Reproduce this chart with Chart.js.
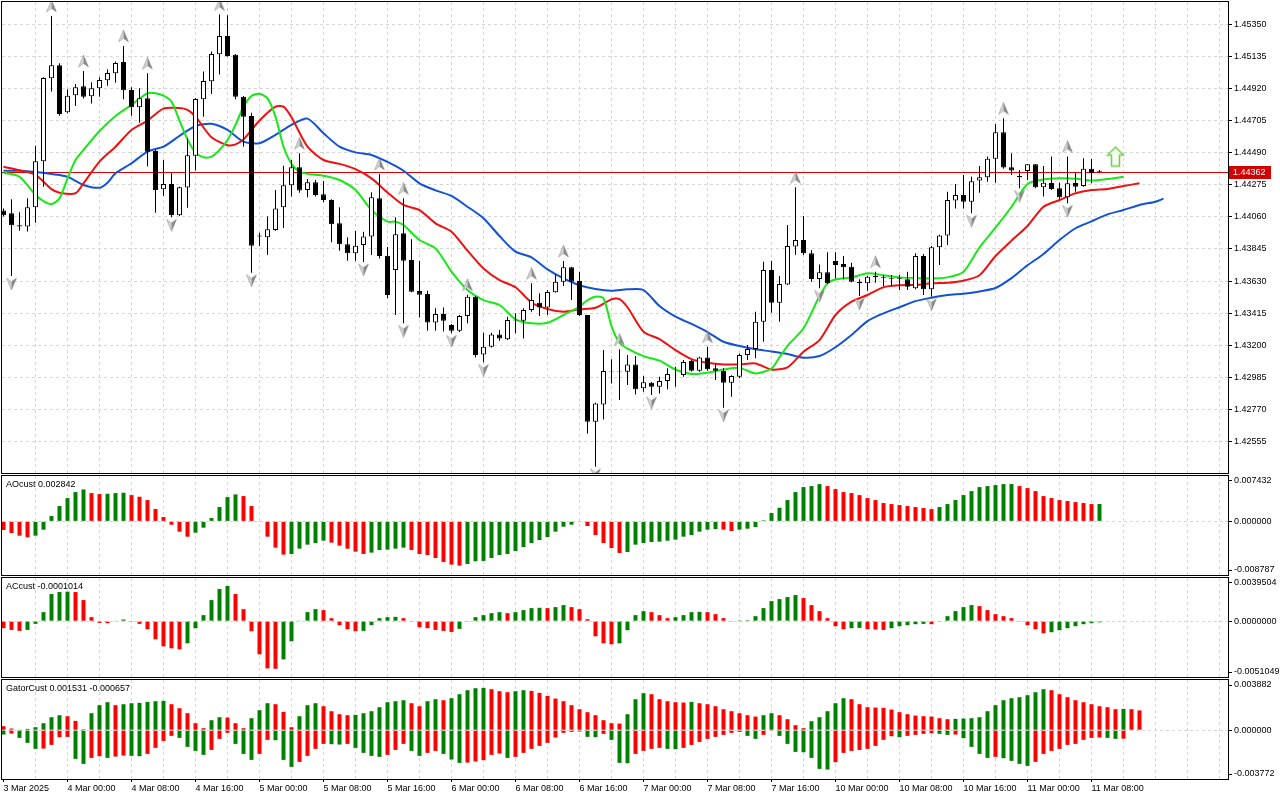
<!DOCTYPE html>
<html>
<head>
<meta charset="utf-8">
<title>GBPUSD H1 - Alligator / AO / AC / Gator</title>
<script src="https://cdn.jsdelivr.net/npm/chart.js@4.4.1/dist/chart.umd.min.js"></script>
<style>
  html, body { margin: 0; padding: 0; background: #fff; }
  body { width: 1280px; height: 800px; position: relative; overflow: hidden; font-family: "Liberation Sans", Arial, sans-serif; }
  canvas { position: absolute; left: 0; }
  .lbl { position: absolute; left: 6px; font-size: 9px; line-height: 11px; color: #000; white-space: nowrap; }
</style>
</head>
<body>
<canvas id="main" width="1280" height="475" style="top:0px"></canvas>
<canvas id="ao" width="1280" height="102" style="top:475px"></canvas>
<canvas id="ac" width="1280" height="102" style="top:577px"></canvas>
<canvas id="gator" width="1280" height="121" style="top:679px"></canvas>
<div class="lbl" id="aoLbl" style="top:479px"></div>
<div class="lbl" id="acLbl" style="top:581px"></div>
<div class="lbl" id="gatorLbl" style="top:683px"></div>

<script>
// ---- data (H1 bars, index 0 = 3 Mar 16:00) ----
const timeLabels = ['3 Mar 2025', '4 Mar 00:00', '4 Mar 08:00', '4 Mar 16:00', '5 Mar 00:00', '5 Mar 08:00',
  '5 Mar 16:00', '6 Mar 00:00', '6 Mar 08:00', '6 Mar 16:00', '7 Mar 00:00', '7 Mar 08:00', '7 Mar 16:00',
  '10 Mar 00:00', '10 Mar 08:00', '10 Mar 16:00', '11 Mar 00:00', '11 Mar 08:00'];

const priceTicks = [1.42555, 1.42770, 1.42985, 1.43200, 1.43415, 1.43630, 1.43845, 1.44060,
  1.44275, 1.44490, 1.44705, 1.44920, 1.45135, 1.45350];

const open = [1.44102,1.44084,1.44004,1.43995,1.44124,1.44432,1.44988,1.45075,1.44760,1.44874,
  1.44935,1.44868,1.44921,1.44975,1.45022,1.45098,1.44910,1.44794,1.44854,1.44502,
  1.44245,1.44280,1.44071,1.44256,1.44470,1.44848,1.44968,1.45149,1.45272,1.45145,
  1.44865,1.44736,1.43936,1.43923,1.43972,1.44124,1.44272,1.44392,1.44240,1.44292,
  1.44211,1.44173,1.44017,1.43876,1.43816,1.43872,1.43928,1.44184,1.43800,1.43704,
  1.43950,1.43771,1.43564,1.43544,1.43352,1.43410,1.43336,1.43298,1.43396,1.43526,
  1.43139,1.43191,1.43273,1.43240,1.43367,1.43365,1.43436,1.43485,1.43454,1.43555,
  1.43626,1.43722,1.43631,1.43403,1.42688,1.42804,1.43025,1.43025,1.43023,1.43072,
  1.42912,1.42950,1.42923,1.42961,1.43003,1.43001,1.43095,1.43030,1.43119,1.43046,
  1.43028,1.42950,1.42990,1.43135,1.43175,1.43358,1.43704,1.43485,1.43608,1.43861,
  1.43905,1.43816,1.43644,1.43689,1.43765,1.43745,1.43726,1.43624,1.43615,1.43666,
  1.43653,1.43651,1.43651,1.43642,1.43582,1.43798,1.43575,1.43856,1.43936,1.44169,
  1.44207,1.44162,1.44303,1.44325,1.44450,1.44627,1.44392,1.44334,1.44367,1.44412,
  1.44258,1.44287,1.44251,1.44191,1.44287,1.44267,1.44383,1.44368];

const high = [1.44117,1.44178,1.44091,1.44184,1.44537,1.44995,1.45406,1.45089,1.44915,1.44950,
  1.45037,1.44961,1.44995,1.45049,1.45100,1.45205,1.44928,1.44921,1.45022,1.44508,
  1.44441,1.44352,1.44262,1.44586,1.44856,1.45033,1.45167,1.45415,1.45410,1.45151,
  1.44870,1.44758,1.43954,1.44062,1.44240,1.44403,1.44441,1.44486,1.44314,1.44307,
  1.44301,1.44178,1.44124,1.43923,1.43966,1.43961,1.44225,1.44347,1.43858,1.44057,
  1.44184,1.43910,1.43765,1.43566,1.43448,1.43454,1.43343,1.43403,1.43539,1.43530,
  1.43284,1.43284,1.43302,1.43392,1.43414,1.43448,1.43615,1.43548,1.43570,1.43673,
  1.43765,1.43726,1.43693,1.43403,1.42816,1.43168,1.43106,1.43173,1.43135,1.43128,
  1.42994,1.42954,1.42990,1.43046,1.43056,1.43101,1.43101,1.43124,1.43191,1.43075,
  1.43046,1.42999,1.43146,1.43202,1.43425,1.43760,1.43765,1.43664,1.44006,1.44258,
  1.44066,1.43838,1.43742,1.43823,1.43823,1.43798,1.43753,1.43642,1.43666,1.43693,
  1.43671,1.43671,1.43671,1.43693,1.43816,1.43812,1.43865,1.43941,1.44229,1.44280,
  1.44341,1.44330,1.44401,1.44464,1.44682,1.44720,1.44486,1.44374,1.44414,1.44414,
  1.44401,1.44464,1.44289,1.44465,1.44356,1.44452,1.44448,1.44374];

const low = [1.44062,1.43664,1.43968,1.43963,1.44021,1.44262,1.44899,1.44738,1.44754,1.44803,
  1.44852,1.44819,1.44865,1.44939,1.44959,1.44848,1.44738,1.44691,1.44397,1.44088,
  1.44200,1.44057,1.44066,1.44122,1.44370,1.44731,1.44883,1.45013,1.45133,1.44848,
  1.44530,1.43686,1.43865,1.43805,1.43968,1.43986,1.44196,1.44222,1.44191,1.44196,
  1.44158,1.43890,1.43834,1.43767,1.43765,1.43758,1.43805,1.43782,1.43515,1.43403,
  1.43347,1.43555,1.43387,1.43298,1.43298,1.43293,1.43280,1.43289,1.43347,1.43119,
  1.43086,1.43186,1.43231,1.43235,1.43280,1.43246,1.43425,1.43396,1.43403,1.43552,
  1.43597,1.43503,1.43396,1.42610,1.42387,1.42704,1.42945,1.42833,1.42934,1.42871,
  1.42889,1.42867,1.42878,1.42905,1.42923,1.42990,1.43025,1.43023,1.43030,1.42967,
  1.42782,1.42856,1.42979,1.43101,1.43113,1.43224,1.43418,1.43358,1.43604,1.43805,
  1.43805,1.43626,1.43582,1.43610,1.43648,1.43642,1.43622,1.43530,1.43566,1.43619,
  1.43597,1.43599,1.43570,1.43570,1.43575,1.43537,1.43526,1.43738,1.43872,1.44117,
  1.44117,1.44084,1.44222,1.44296,1.44289,1.44383,1.44341,1.44251,1.44307,1.44251,
  1.44196,1.44240,1.44180,1.44151,1.44229,1.44262,1.44285,1.44352];

const close = [1.44071,1.44004,1.43995,1.44124,1.44432,1.44990,1.45075,1.44749,1.44872,1.44928,
  1.44865,1.44921,1.44977,1.45024,1.45091,1.44908,1.44794,1.44854,1.44497,1.44240,
  1.44280,1.44073,1.44258,1.44472,1.44850,1.44970,1.45151,1.45272,1.45138,1.44865,
  1.44731,1.43867,1.43928,1.43977,1.44117,1.44272,1.44392,1.44236,1.44292,1.44207,
  1.44173,1.44010,1.43876,1.43816,1.43867,1.43928,1.44191,1.43798,1.43537,1.43943,
  1.43767,1.43559,1.43539,1.43352,1.43410,1.43365,1.43298,1.43396,1.43526,1.43135,
  1.43191,1.43273,1.43246,1.43369,1.43372,1.43436,1.43503,1.43454,1.43557,1.43626,
  1.43722,1.43626,1.43403,1.42688,1.42811,1.43028,1.43021,1.43021,1.43072,1.42905,
  1.42952,1.42923,1.42961,1.43008,1.42999,1.43088,1.43030,1.43119,1.43039,1.43030,
  1.42950,1.42994,1.43135,1.43175,1.43358,1.43704,1.43485,1.43610,1.43865,1.43905,
  1.43816,1.43644,1.43689,1.43615,1.43738,1.43722,1.43626,1.43615,1.43660,1.43655,
  1.43657,1.43646,1.43646,1.43593,1.43798,1.43575,1.43856,1.43936,1.44173,1.44207,
  1.44162,1.44298,1.44325,1.44450,1.44627,1.44390,1.44370,1.44325,1.44412,1.44258,
  1.44289,1.44247,1.44191,1.44285,1.44262,1.44383,1.44352,1.44362];

// alligator lines, [bar index, price] (drawn shifted past the last bar)
const jaw = [[0,1.44369],[2,1.44369],[4,1.44361],[6,1.44347],[8,1.44329],[10,1.44274],[12,1.44255],[13,1.44289],
  [14,1.44352],[16,1.44419],[18,1.44497],[20,1.44530],[22,1.44602],[24,1.44669],[26,1.44683],[28,1.44642],
  [30,1.44564],[32,1.44553],[34,1.44609],[36,1.44676],[38,1.44718],[40,1.44620],[42,1.44530],[44,1.44492],
  [46,1.44475],[48,1.44428],[50,1.44369],[52,1.44285],[54,1.44238],[56,1.44200],[58,1.44128],[60,1.44051],
  [62,1.43932],[64,1.43827],[66,1.43789],[68,1.43708],[70,1.43648],[72,1.43602],[74,1.43577],[76,1.43566],
  [78,1.43575],[80,1.43570],[82,1.43463],[84,1.43392],[86,1.43343],[88,1.43289],[90,1.43224],[92,1.43195],
  [94,1.43173],[96,1.43159],[98,1.43142],[100,1.43117],[102,1.43128],[104,1.43187],[106,1.43269],[108,1.43362],
  [110,1.43414],[112,1.43455],[114,1.43496],[116,1.43519],[118,1.43537],[120,1.43546],[122,1.43561],[124,1.43584],
  [126,1.43650],[128,1.43736],[130,1.43812],[132,1.43905],[134,1.43984],[136,1.44030],[138,1.44077],[140,1.44106],
  [142,1.44140],[144,1.44162],[145,1.44182]];

const teeth = [[0,1.44396],[2,1.44372],[4,1.44341],[6,1.44246],[7,1.44222],[9,1.44218],[10,1.44285],[12,1.44430],
  [14,1.44530],[16,1.44642],[18,1.44705],[20,1.44785],[22,1.44789],[23,1.44776],[24,1.44731],[26,1.44593],
  [28,1.44540],[29,1.44546],[30,1.44579],[32,1.44705],[34,1.44798],[35,1.44798],[36,1.44727],[38,1.44530],
  [40,1.44441],[42,1.44415],[44,1.44380],[46,1.44318],[48,1.44224],[50,1.44140],[52,1.44106],[54,1.44017],
  [56,1.43961],[58,1.43834],[60,1.43715],[62,1.43637],[64,1.43589],[66,1.43487],[68,1.43443],[70,1.43425],
  [72,1.43441],[74,1.43452],[76,1.43508],[77,1.43510],[78,1.43455],[80,1.43291],[82,1.43242],[84,1.43168],
  [86,1.43108],[88,1.43083],[90,1.43072],[92,1.43072],[94,1.43079],[96,1.43038],[98,1.43052],[100,1.43157],
  [102,1.43235],[104,1.43403],[106,1.43492],[108,1.43537],[110,1.43589],[112,1.43602],[114,1.43604],[116,1.43615],
  [118,1.43619],[120,1.43633],[122,1.43669],[124,1.43798],[126,1.43901],[128,1.43999],[130,1.44128],[132,1.44173],
  [134,1.44218],[136,1.44240],[138,1.44247],[140,1.44267],[142,1.44285]];

const lips = [[0,1.44356],[2,1.44329],[4,1.44207],[5,1.44166],[6,1.44146],[7,1.44184],[8,1.44318],[9,1.44441],
  [10,1.44508],[12,1.44635],[14,1.44736],[16,1.44810],[18,1.44888],[19,1.44888],[20,1.44872],[21,1.44832],
  [22,1.44705],[23,1.44579],[24,1.44490],[25,1.44459],[26,1.44463],[27,1.44508],[28,1.44575],[29,1.44676],
  [30,1.44798],[31,1.44870],[32,1.44884],[33,1.44854],[34,1.44731],[35,1.44530],[36,1.44415],[37,1.44363],
  [38,1.44348],[40,1.44336],[42,1.44307],[44,1.44240],[46,1.44106],[48,1.44028],[49,1.44028],[50,1.44006],
  [52,1.43905],[54,1.43849],[56,1.43693],[58,1.43570],[60,1.43503],[62,1.43470],[64,1.43374],[66,1.43347],
  [68,1.43351],[70,1.43403],[72,1.43459],[73,1.43503],[74,1.43526],[75,1.43515],[76,1.43329],[77,1.43217],
  [78,1.43178],[80,1.43128],[82,1.43097],[84,1.43038],[86,1.43008],[88,1.43016],[90,1.43038],[92,1.43049],
  [94,1.43012],[96,1.43045],[97,1.43120],[98,1.43197],[100,1.43314],[102,1.43530],[103,1.43615],[104,1.43641],
  [106,1.43655],[108,1.43682],[110,1.43669],[112,1.43655],[114,1.43650],[116,1.43648],[118,1.43655],[120,1.43693],
  [122,1.43856],[124,1.43988],[126,1.44128],[128,1.44281],[130,1.44311],[132,1.44318],[134,1.44316],[136,1.44303],
  [138,1.44313],[140,1.44329]];

const fractalUp = [6, 10, 15, 18, 27, 37, 47, 50, 58, 66, 70, 77, 88, 99, 109, 125, 133];
const fractalDown = [1, 21, 31, 45, 50, 56, 60, 74, 81, 90, 102, 107, 116, 121, 127, 133];
const signalUp = [{ x: 139, y: 1.44464 }];

const ao = [-0.001417,-0.001908,-0.002344,-0.002616,-0.002344,-0.001363,0.000872,0.002507,0.003815,0.004796,
  0.005232,0.004633,0.004469,0.004524,0.004633,0.004687,0.004306,0.004033,0.003488,0.002017,
  0.000709,-0.000545,-0.00169,-0.002507,-0.001853,-0.001036,0.000545,0.002344,0.003979,0.004415,
  0.004142,0.002507,-0.000109,-0.002507,-0.004306,-0.00545,-0.005341,-0.004469,-0.003815,-0.003543,
  -0.003161,-0.003488,-0.003979,-0.004469,-0.00496,-0.005341,-0.005123,-0.004687,-0.004633,-0.004469,
  -0.004306,-0.004687,-0.005341,-0.005505,-0.005995,-0.006649,-0.007085,-0.007249,-0.006976,-0.00654,
  -0.006486,-0.005995,-0.005505,-0.005341,-0.004851,-0.004197,-0.003543,-0.003052,-0.002562,-0.00169,
  -0.000872,-0.000545,-0.000109,-0.000763,-0.002235,-0.003543,-0.00436,-0.005178,-0.005014,-0.003815,
  -0.003543,-0.003379,-0.003325,-0.003161,-0.002998,-0.002507,-0.002235,-0.00169,-0.001363,-0.001254,
  -0.001363,-0.001581,-0.001363,-0.001199,-0.000927,0.000164,0.001363,0.002235,0.003488,0.004796,
  0.005614,0.005777,0.006104,0.005777,0.005287,0.004796,0.004633,0.004306,0.003815,0.003488,
  0.002998,0.002834,0.002671,0.002507,0.002344,0.00218,0.002017,0.002344,0.002834,0.003488,
  0.004306,0.00496,0.005614,0.005777,0.005941,0.006104,0.00611,0.005777,0.00545,0.00496,
  0.004142,0.003815,0.003488,0.003325,0.003161,0.002998,0.002834,0.002842];

const ac = [-0.000643,-0.000797,-0.000889,-0.000797,-0.000245,0.000827,0.002482,0.002666,0.002696,0.002666,
  0.00193,0.000368,-0.000153,-0.000184,0.000031,0.000153,-0.000061,-0.000245,-0.000735,-0.001655,
  -0.002298,-0.002482,-0.002574,-0.002022,-0.000643,0.000552,0.00193,0.002941,0.003217,0.002482,
  0.001103,-0.000919,-0.003033,-0.00432,-0.004351,-0.003493,-0.001838,0.000031,0.000827,0.001103,
  0.001011,0.000276,-0.000368,-0.000735,-0.000919,-0.000889,-0.000368,0.000276,0.000368,0.000398,
  0.000276,-0.000061,-0.000552,-0.000643,-0.000797,-0.000889,-0.00098,-0.000705,-0.000061,0.000368,
  0.000552,0.000735,0.000827,0.000735,0.000827,0.001011,0.001195,0.001226,0.001195,0.001287,
  0.001471,0.001287,0.001103,0.000184,-0.001379,-0.002022,-0.002114,-0.002022,-0.000827,0.000552,
  0.000919,0.000827,0.000552,0.000276,0.000368,0.000552,0.000827,0.000858,0.000827,0.000643,
  0.000276,-0.000031,0.000015,0.000092,0.00046,0.001195,0.001838,0.002022,0.002206,0.00239,
  0.002114,0.001471,0.000919,0.000276,-0.00046,-0.000735,-0.000643,-0.000613,-0.000735,-0.000766,
  -0.000797,-0.000643,-0.00046,-0.000368,-0.000276,-0.000245,-0.000276,-0.000031,0.00046,0.000919,
  0.001287,0.001471,0.001379,0.001011,0.000643,0.00046,0.000276,-0.000031,-0.000368,-0.000735,
  -0.001103,-0.001011,-0.000827,-0.000643,-0.00046,-0.000276,-0.000184,-0.0001014];

const gatorUp = [0.000309,0.000129,0.000026,0.000103,0.000232,0.000541,0.001005,0.00116,0.001082,0.000722,
  0.000077,0.001314,0.001933,0.002165,0.001933,0.00201,0.002087,0.002113,0.00219,0.002242,
  0.002268,0.00201,0.001701,0.001314,0.000541,0.000155,0.000773,0.001005,0.000979,0.000541,
  0.000155,0.000928,0.001546,0.002087,0.00201,0.001417,0.000232,0.001082,0.001933,0.002087,
  0.001855,0.001469,0.001237,0.00116,0.001185,0.001314,0.001469,0.001778,0.002165,0.002242,
  0.002319,0.002087,0.001855,0.002242,0.002397,0.002319,0.002474,0.002783,0.003092,0.003247,
  0.003273,0.00317,0.003015,0.002938,0.003015,0.003092,0.003041,0.002886,0.002654,0.002448,
  0.002242,0.001933,0.001624,0.001392,0.00116,0.000773,0.000541,0.000515,0.001237,0.002397,
  0.00286,0.002783,0.002397,0.002242,0.002165,0.002139,0.00219,0.002087,0.00201,0.001855,
  0.001624,0.001469,0.001314,0.00116,0.001057,0.00116,0.001314,0.00116,0.00085,0.000387,
  0.000155,0.000696,0.001005,0.001469,0.002087,0.002474,0.002397,0.00201,0.001778,0.001752,
  0.001727,0.001598,0.001392,0.001237,0.001134,0.001082,0.001057,0.000928,0.00085,0.000876,
  0.000902,0.000928,0.001005,0.001469,0.001933,0.002319,0.002474,0.002551,0.002706,0.002938,
  0.00317,0.003092,0.002783,0.002551,0.002319,0.002165,0.00201,0.001855,0.001778,0.001624,
  0.001649,0.001624,0.001531];

const gatorDown = [-0.000335,-0.000258,-0.000593,-0.000979,-0.001443,-0.001417,-0.001134,-0.000541,-0.000515,-0.002216,
  -0.002603,-0.002139,-0.00201,-0.002139,-0.002036,-0.001959,-0.001984,-0.00201,-0.00183,-0.001366,
  -0.000825,-0.000438,-0.000593,-0.001289,-0.001598,-0.001907,-0.00152,-0.00067,-0.000206,-0.001057,
  -0.00183,-0.002294,-0.00183,-0.000747,-0.000773,-0.002294,-0.002835,-0.002448,-0.001984,-0.001443,
  -0.001057,-0.001082,-0.001108,-0.001057,-0.001366,-0.001752,-0.001984,-0.002062,-0.001907,-0.00152,
  -0.001057,-0.001598,-0.001984,-0.001752,-0.001598,-0.00183,-0.002268,-0.002525,-0.0025,-0.002422,
  -0.002319,-0.001907,-0.001804,-0.002139,-0.002062,-0.001752,-0.001443,-0.001211,-0.000979,-0.000567,
  -0.000206,-0.000129,-0.000103,-0.000515,-0.000541,-0.000283,-0.000747,-0.002525,-0.002551,-0.00183,
  -0.001598,-0.001443,-0.001366,-0.001443,-0.001469,-0.001366,-0.001134,-0.000902,-0.00067,-0.000515,
  -0.000361,-0.000206,-0.000129,-0.000438,-0.00067,-0.000361,-0.000052,-0.000438,-0.001057,-0.001675,
  -0.001701,-0.002139,-0.002989,-0.003041,-0.002474,-0.001752,-0.001598,-0.00152,-0.001443,-0.001211,
  -0.000747,-0.000464,-0.000541,-0.000438,-0.000361,-0.000283,-0.000232,-0.000283,-0.000361,-0.000335,
  -0.000618,-0.001289,-0.00183,-0.002139,-0.002062,-0.002165,-0.002371,-0.002603,-0.002757,-0.002448,
  -0.00183,-0.001598,-0.001443,-0.001134,-0.001057,-0.000747,-0.000593,-0.000567,-0.000593,-0.00067,
  -0.000657];

// panel ranges as printed on the right axis
const aoRange = [-0.008787, 0.007432];
const acRange = [-0.0051049, 0.0039504];
const gatorRange = [-0.003772, 0.003882];

// ---- styling ----
const FONT = '"Liberation Sans", Arial, sans-serif';
const GRID = '#d6d6d6';
const GREEN = '#008000';
const RED = '#ff0000';
const X_MIN = -0.1875;          // 8 px per bar, bar 0 at x = 3.5
const X_MAX = X_MIN + 153.25;

Chart.defaults.font.family = FONT;
Chart.defaults.font.size = 9;
Chart.defaults.color = '#000';
Chart.defaults.plugins.legend.display = false;
Chart.defaults.plugins.tooltip.enabled = false;

const lastPrice = close[close.length - 1];

document.getElementById('aoLbl').textContent = 'AOcust ' + ao[ao.length - 1].toFixed(6);
document.getElementById('acLbl').textContent = 'ACcust ' + ac[ac.length - 1].toFixed(7);
document.getElementById('gatorLbl').textContent = 'GatorCust ' + gatorUp[gatorUp.length - 1].toFixed(6) +
  ' ' + gatorDown[gatorDown.length - 1].toFixed(6);

function barColors(vals, firstUp, useAbs) {
  const out = [];
  let up = firstUp;
  vals.forEach((v, i) => {
    if (i > 0) {
      const a = useAbs ? Math.abs(v) : v;
      const b = useAbs ? Math.abs(vals[i - 1]) : vals[i - 1];
      if (a > b) up = true;
      else if (a < b) up = false;
    }
    out.push(up ? GREEN : RED);
  });
  return out;
}

// grey arrowhead like MT5's fractal glyph, drawn off-centre so the point sits on the high/low
function fractalIcon(up) {
  const c = document.createElement('canvas');
  c.width = 13; c.height = 44;
  const g = c.getContext('2d');
  g.translate(6.5, up ? 12 : 30);
  if (!up) g.scale(1, -1);
  g.beginPath(); g.moveTo(0, -6); g.lineTo(0, 2.5); g.lineTo(-5, 6); g.closePath();
  g.fillStyle = '#d2d2d2'; g.fill();
  g.beginPath(); g.moveTo(0, -6); g.lineTo(5, 6); g.lineTo(0, 2.5); g.closePath();
  g.fillStyle = '#8a8a8a'; g.fill();
  g.beginPath(); g.moveTo(0, -6); g.lineTo(5, 6); g.lineTo(0, 2.5); g.lineTo(-5, 6); g.closePath();
  g.strokeStyle = 'rgba(110,110,110,0.6)'; g.lineWidth = 0.6; g.stroke();
  return c;
}

function signalIcon() {
  const c = document.createElement('canvas');
  c.width = 19; c.height = 22;
  const g = c.getContext('2d');
  g.beginPath();
  g.moveTo(9.5, 1.5); g.lineTo(17.5, 9.5); g.lineTo(13.5, 9.5); g.lineTo(13.5, 20.5);
  g.lineTo(5.5, 20.5); g.lineTo(5.5, 9.5); g.lineTo(1.5, 9.5); g.closePath();
  g.fillStyle = '#f6fff0'; g.fill();
  g.strokeStyle = '#72cf4c'; g.lineWidth = 1.5; g.stroke();
  return c;
}

const framePlugin = {
  id: 'frame',
  afterDraw(chart) {
    const { ctx, chartArea: a } = chart;
    ctx.save();
    ctx.strokeStyle = '#000';
    ctx.lineWidth = 1;
    ctx.strokeRect(Math.round(a.left) - 0.5, Math.round(a.top) - 0.5,
      Math.round(a.right - a.left) + 1, Math.round(a.bottom - a.top) + 1);
    ctx.restore();
  }
};

const priceLinePlugin = {
  id: 'priceLine',
  beforeDatasetsDraw(chart) {
    const { ctx, chartArea: a, scales: { y } } = chart;
    const py = Math.round(y.getPixelForValue(lastPrice)) + 0.5;
    ctx.save();
    ctx.strokeStyle = '#e00000';
    ctx.lineWidth = 1;
    ctx.beginPath(); ctx.moveTo(a.left, py); ctx.lineTo(a.right, py); ctx.stroke();
    ctx.restore();
  },
  afterDraw(chart) {
    const { ctx, chartArea: a, scales: { y } } = chart;
    const py = Math.round(y.getPixelForValue(lastPrice));
    ctx.save();
    ctx.fillStyle = '#d40000';
    ctx.fillRect(a.right + 1, py - 6, 42, 13);
    ctx.fillStyle = '#fff';
    ctx.font = '9px ' + FONT;
    ctx.textBaseline = 'middle';
    ctx.fillText(lastPrice.toFixed(5), a.right + 5, py + 1);
    ctx.restore();
  }
};

function xAxis(showLabels) {
  return {
    type: 'linear', min: X_MIN, max: X_MAX, offset: false,
    afterBuildTicks: s => {
      s.ticks = [];
      for (let v = 0; v <= 152; v += 4) s.ticks.push({ value: v });
    },
    afterFit: s => { s.height = showLabels ? 21 : 0; s.paddingLeft = 0; s.paddingRight = 0; },
    grid: {
      offset: false,
      color: c => (c.tick && c.tick.value === 0) ? 'rgba(0,0,0,0)' : GRID,
      drawTicks: showLabels, tickLength: 3, tickBorderDash: [],
      tickColor: c => (c.tick && c.tick.value % 8 === 0 && c.tick.value / 8 < timeLabels.length) ? '#000' : 'rgba(0,0,0,0)'
    },
    border: { display: false, dash: [3, 3] },
    ticks: {
      display: showLabels, autoSkip: false, maxRotation: 0, minRotation: 0, align: 'start', padding: 1,
      callback: v => (v % 8 === 0 && v / 8 < timeLabels.length) ? timeLabels[v / 8] : ''
    }
  };
}

function yFit(s) { s.width = 52; s.paddingTop = 0; s.paddingBottom = 0; }

function subY(range, digits) {
  const [min, max] = range;
  const inset = (max - min) * 5 / 99;     // MT5 keeps the edge labels inside the panel
  const vals = [min + inset, 0, max - inset];
  const labels = [min.toFixed(digits), (0).toFixed(digits), max.toFixed(digits)];
  return {
    type: 'linear', position: 'right', min, max,
    afterBuildTicks: s => { s.ticks = vals.map(v => ({ value: v })); },
    afterFit: yFit,
    grid: { color: c => c.index === 1 ? GRID : 'rgba(0,0,0,0)', tickLength: 4, tickColor: '#000', tickBorderDash: [] },
    border: { display: false, dash: [3, 3] },
    ticks: { autoSkip: false, padding: 2, callback: (v, i) => labels[i] }
  };
}

function histogram(vals, colors) {
  return {
    type: 'bar', data: vals.map((v, i) => ({ x: i, y: v })),
    backgroundColor: colors, borderWidth: 0, barThickness: 4, grouped: false, inflateAmount: 0
  };
}

function subChart(id, datasets, range, digits, showLabels) {
  return new Chart(document.getElementById(id), {
    type: 'bar',
    data: { datasets },
    options: {
      responsive: false, animation: false, events: [], devicePixelRatio: 1,
      layout: { autoPadding: false, padding: { left: 2, right: 0, top: 1, bottom: showLabels ? 0 : 2 } },
      scales: { x: xAxis(showLabels), y: subY(range, digits) }
    },
    plugins: [framePlugin]
  });
}

// ---- main price chart ----
const idx = close.map((_, i) => i);
const line = (pts, color, order) => ({
  type: 'line', data: pts.map(p => ({ x: p[0], y: p[1] })), borderColor: color, borderWidth: 2,
  pointRadius: 0, tension: 0.25, order
});

new Chart(document.getElementById('main'), {
  type: 'bar',
  data: {
    datasets: [
      line(jaw, '#1252d4', 7),
      line(teeth, '#ee1111', 6),
      line(lips, '#18e818', 5),
      {
        type: 'bar', order: 4, data: idx.map(i => ({ x: i, y: [low[i], high[i]] })),
        backgroundColor: '#000', borderWidth: 0, barThickness: 1, grouped: false, inflateAmount: 0
      },
      {
        type: 'bar', order: 3, data: idx.map(i => ({ x: i, y: [open[i], close[i]] })),
        backgroundColor: idx.map(i => close[i] >= open[i] ? '#fff' : '#000'),
        borderColor: '#000', borderWidth: 1, borderSkipped: false,
        barThickness: 5, grouped: false, inflateAmount: 0
      },
      {
        type: 'line', order: 2, showLine: false, data: fractalUp.map(i => ({ x: i, y: high[i] })),
        pointStyle: fractalIcon(true), pointRadius: 5
      },
      {
        type: 'line', order: 2, showLine: false, data: fractalDown.map(i => ({ x: i, y: low[i] })),
        pointStyle: fractalIcon(false), pointRadius: 5
      },
      {
        type: 'line', order: 1, showLine: false, data: signalUp,
        pointStyle: signalIcon(), pointRadius: 8
      }
    ]
  },
  options: {
    responsive: false, animation: false, events: [], devicePixelRatio: 1,
    layout: { autoPadding: false, padding: { left: 2, right: 0, top: 2, bottom: 2 } },
    scales: {
      x: xAxis(false),
      y: {
        type: 'linear', position: 'right', min: 1.42345, max: 1.45499,
        afterBuildTicks: s => { s.ticks = priceTicks.map(v => ({ value: v })); },
        afterFit: yFit,
        grid: { color: GRID, tickLength: 4, tickColor: '#000', tickBorderDash: [] },
        border: { display: false, dash: [3, 3] },
        ticks: { autoSkip: false, padding: 2, callback: v => v.toFixed(5) }
      }
    }
  },
  plugins: [priceLinePlugin, framePlugin]
});

// ---- indicator panels ----
subChart('ao', [histogram(ao, barColors(ao, false, false))], aoRange, 6, false);
subChart('ac', [histogram(ac, barColors(ac, false, false))], acRange, 7, false);
subChart('gator', [
  histogram(gatorUp, barColors(gatorUp, false, true)),
  histogram(gatorDown, barColors(gatorDown, true, true))
], gatorRange, 6, true);
</script>
</body>
</html>
